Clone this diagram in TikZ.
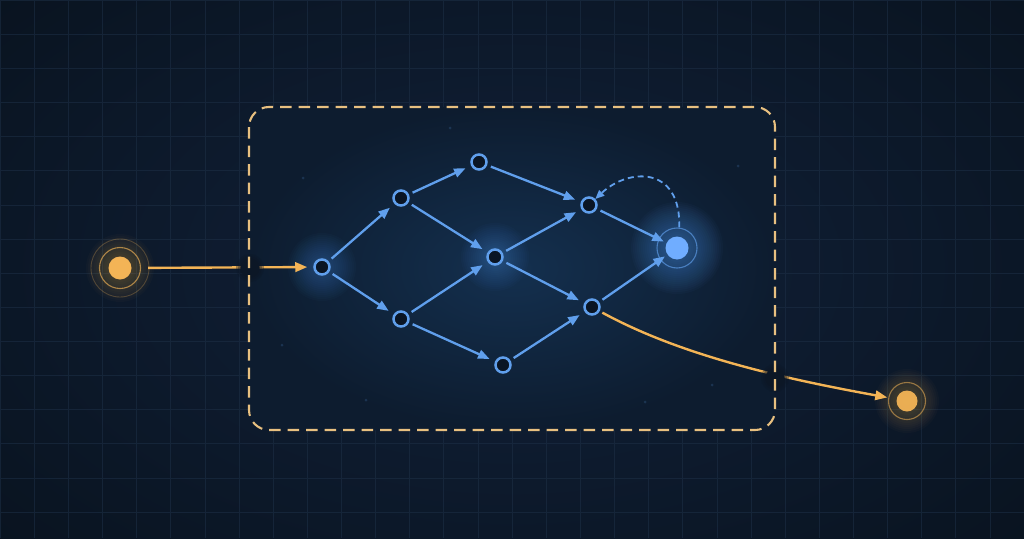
\documentclass[tikz,border=0pt]{standalone}
\usetikzlibrary{arrows.meta}
\definecolor{bgIn}{HTML}{11213A}
\definecolor{bgOut}{HTML}{09131F}
\definecolor{gridc}{HTML}{1E3047}
\definecolor{boxIn}{HTML}{14304F}
\definecolor{boxOut}{HTML}{0D1C2F}
\definecolor{gold}{HTML}{F3B456}
\definecolor{boxgold}{HTML}{E8C080}
\definecolor{blueE}{HTML}{609FEC}
\definecolor{blueT}{HTML}{70ADFF}
\definecolor{glowB}{HTML}{5394E6}
\definecolor{nodeDark}{HTML}{0A1524}
\definecolor{gapc}{HTML}{0C1726}
\tikzset{
  nd/.style={circle, draw=blueE, line width=2.5pt, fill=nodeDark, minimum size=15pt, inner sep=0pt},
  edge/.style={draw=blueE, line width=2.3pt, -{Triangle[length=11.5pt,width=9pt]}, shorten <=4pt, shorten >=6pt},
  goldarrow/.style={draw=gold, line width=2.4pt, -{Triangle[length=12pt,width=9.5pt]}},
  dashedloop/.style={draw=blueE, line width=1.8pt, dash pattern=on 6pt off 4pt, -{Triangle[length=9pt,width=7.5pt]}},
  boxborder/.style={draw=boxgold, line width=2.1pt, dash pattern=on 11.5pt off 7pt, rounded corners=20pt}
}
\begin{document}
\begin{tikzpicture}[x=1pt,y=-1pt]
\useasboundingbox (0,0) rectangle (1024,538);
% background
\shade[inner color=bgIn, outer color=bgOut] (-200,-150) rectangle (1224,688);
\draw[gridc, line width=0.6pt, opacity=0.55] (0,0) grid[step=34.133pt] (1024,538);
% box fill
\shade[rounded corners=20pt, inner color=boxIn, outer color=boxOut] (249,107) rectangle (775,430);
% faint particles
\foreach \p in {(450,128),(303,178),(282,345),(366,400),(738,166),(712,385),(645,402)}
  \fill[blueE, opacity=0.18] \p circle[radius=1.5pt];
% glows
\foreach \r in {2,4,...,34} \fill[glowB, opacity=0.028] (322,267) circle[radius=\r pt];
\foreach \r in {2,4,...,34} \fill[glowB, opacity=0.028] (495,257) circle[radius=\r pt];
\foreach \r in {2,4,...,46} \fill[glowB, opacity=0.03] (677,248) circle[radius=\r pt];
\foreach \r in {2,4,...,34} \fill[gold, opacity=0.022] (120,268) circle[radius=\r pt];
\foreach \r in {2,4,...,32} \fill[gold, opacity=0.022] (907,401) circle[radius=\r pt];
% nodes
\node[nd] (A) at (322,267) {};
\node[nd] (B1) at (401,198) {};
\node[nd] (B2) at (401,319) {};
\node[nd] (C1) at (479,162) {};
\node[nd] (C2) at (495,257) {};
\node[nd] (C3) at (503,365) {};
\node[nd] (D1) at (589,205) {};
\node[nd] (D2) at (592,307) {};
\node[circle, fill=blueT, minimum size=23pt, inner sep=0pt] (T) at (677,248) {};
\draw[blueE, line width=1.1pt, opacity=0.65] (T) circle[radius=20pt];
% source and sink
\node[circle, draw=gold, draw opacity=0.65, line width=1.1pt, minimum size=41pt, inner sep=0pt] (S) at (120,268) {};
\draw[gold, opacity=0.25, line width=0.9pt] (S) circle[radius=29pt];
\fill[gold] (S) circle[radius=11.5pt];
\node[circle, draw=gold, draw opacity=0.55, line width=1.1pt, minimum size=37pt, inner sep=0pt] (K) at (907,401) {};
\fill[gold, fill opacity=0.95] (K) circle[radius=10.5pt];
% edges
\draw[edge] (A) -- (B1);
\draw[edge] (A) -- (B2);
\draw[edge] (B1) -- (C1);
\draw[edge] (B1) -- (C2);
\draw[edge] (B2) -- (C2);
\draw[edge] (B2) -- (C3);
\draw[edge] (C1) -- (D1);
\draw[edge] (C2) -- (D1);
\draw[edge] (C2) -- (D2);
\draw[edge] (C3) -- (D2);
\draw[edge, shorten >=3pt] (D1) -- (T);
\draw[edge, shorten >=3pt] (D2) -- (T);
\draw[dashedloop, shorten <=9pt, shorten >=0pt] (T.80) .. controls (681,165) and (628,168) .. (D1);
% gold arrows
\draw[goldarrow, shorten <=7pt, shorten >=6pt] (S) -- (A);
\draw[goldarrow, shorten <=3pt, shorten >=1pt] (D2) .. controls (680,355) and (780,378) .. (K);
% gaps where arrows cross the border
\foreach \r in {10,12,14} \fill[gapc, opacity=0.35] (250,268) circle[radius=\r pt];
\fill[gapc] (250,268) circle[radius=9.5pt];
\foreach \r in {10,12,14} \fill[gapc, opacity=0.35] (775,378) circle[radius=\r pt];
\fill[gapc] (775,378) circle[radius=9.5pt];
% box border
\draw[boxborder] (249,107) rectangle (775,430);
\end{tikzpicture}
\end{document}
